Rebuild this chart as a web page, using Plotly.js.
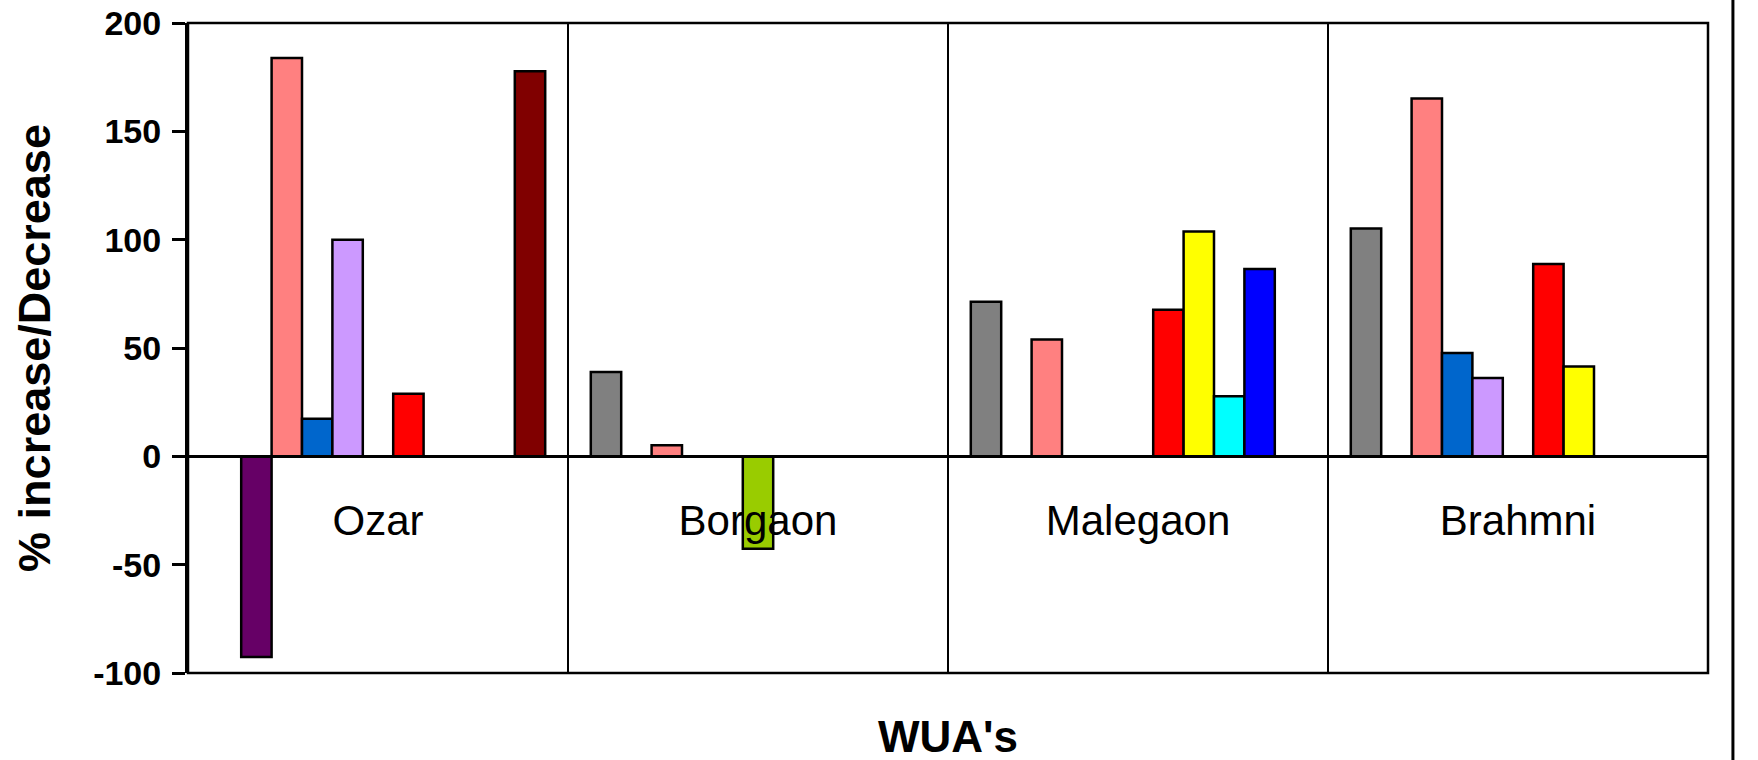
<!DOCTYPE html>
<html>
<head>
<meta charset="utf-8">
<script src="https://cdn.plot.ly/plotly-3.0.1.min.js"></script>
<style>
  html, body { margin: 0; padding: 0; background: #ffffff; }
  #chart { width: 1758px; height: 760px; }
</style>
</head>
<body>
<div id="chart"></div>
<script>
// Categories (WUA's)
const categories = ["Ozar", "Borgaon", "Malegaon", "Brahmni"];

// Series values (% increase/Decrease), null = no bar
const series1  = [null, 38.9, 71.3, 105.1];   // grey
const series2  = [-92.6, null, null, null];   // dark purple
const series3  = [183.9, 5.1, 53.9, 165.1];   // salmon
const series4  = [17.4, null, null, 47.7];    // mid blue
const series5  = [100.0, null, null, 36.2];   // lavender
const series6  = [null, -42.7, null, null];   // yellow-green
const series7  = [28.9, null, 67.7, 88.8];    // red
const series8  = [null, null, 103.8, 41.5];   // yellow
const series9  = [null, null, 27.7, null];    // cyan
const series10 = [null, null, 86.5, null];    // blue
const series11 = [177.7, null, null, null];   // dark red

const seriesNames = ["Series 1","Series 2","Series 3","Series 4","Series 5","Series 6",
                     "Series 7","Series 8","Series 9","Series 10","Series 11"];
const seriesColors = ["#808080","#660066","#FF8080","#0066CC","#CC99FF","#99CC00",
                      "#FF0000","#FFFF00","#00FFFF","#0000FF","#800000"];
const seriesValues = [series1, series2, series3, series4, series5, series6,
                      series7, series8, series9, series10, series11];

const yTickVals = [-100, -50, 0, 50, 100, 150, 200];
const yTickText = ["-100", "-50", "0", "50", "100", "150", "200"];

const xTitle = "WUA's";
const yTitle = "% increase/Decrease";

const FONT = "'Liberation Sans', Arial, Helvetica, sans-serif";

const traces = seriesValues.map((vals, i) => ({
  type: "bar",
  name: seriesNames[i],
  x: categories,
  y: vals,
  marker: { color: seriesColors[i], line: { color: "#000000", width: 2.5 } },
  showlegend: false,
  hoverinfo: "x+y"
}));

const yMin = -100, yMax = 200;

const layout = {
  width: 1758,
  height: 760,
  paper_bgcolor: "#ffffff",
  plot_bgcolor: "#ffffff",
  margin: { l: 188, r: 50, t: 23, b: 87, autoexpand: false },
  barmode: "group",
  bargap: 0.12,
  bargroupgap: 0,
  font: { family: FONT, color: "#000000" },
  xaxis: {
    type: "category",
    categoryorder: "array",
    categoryarray: categories,
    anchor: "free",
    position: (0 - yMin) / (yMax - yMin),
    showline: true,
    linecolor: "#000000",
    linewidth: 2.5,
    ticks: "",
    tickson: "boundaries",
    showgrid: true,
    gridcolor: "#000000",
    gridwidth: 2.5,
    tickfont: { family: FONT, size: 42, color: "#000000" },
    ticklabelstandoff: 27,
    fixedrange: true
  },
  yaxis: {
    range: [yMin, yMax],
    tickvals: yTickVals,
    ticktext: yTickText,
    showline: true,
    linecolor: "#000000",
    linewidth: 3,
    ticks: "outside",
    ticklen: 13,
    tickwidth: 3,
    tickcolor: "#000000",
    showgrid: false,
    zeroline: false,
    tickfont: { family: FONT, size: 34, color: "#000000", weight: "bold" },
    ticklabelstandoff: 4,
    title: {
      text: yTitle,
      font: { family: FONT, size: 45, color: "#000000", weight: "bold" },
      standoff: 29
    },
    fixedrange: true
  },
  annotations: [
    { text: xTitle, xref: "paper", yref: "paper", x: 0.5, y: -0.098,
      xanchor: "center", yanchor: "middle", showarrow: false,
      font: { family: FONT, size: 44, color: "#000000", weight: "bold" } }
  ],
  shapes: [
    { type: "rect", xref: "paper", yref: "paper", x0: 0, x1: 1, y0: 0, y1: 1,
      line: { color: "#000000", width: 2.5 }, fillcolor: "rgba(0,0,0,0)", layer: "above" },
    { type: "line", xref: "paper", yref: "paper", x0: 1.0164, x1: 1.0164, y0: -0.14, y1: 1.04,
      line: { color: "#000000", width: 3 } }
  ]
};

Plotly.newPlot("chart", traces, layout, { displayModeBar: false, staticPlot: true });
</script>
</body>
</html>
